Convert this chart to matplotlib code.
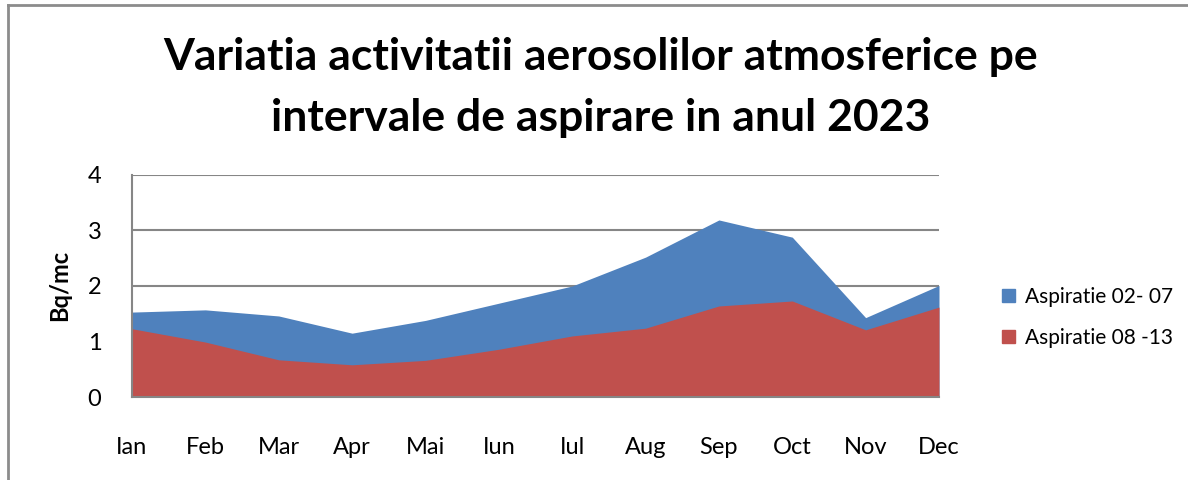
import matplotlib.pyplot as plt
from matplotlib.lines import Line2D
from matplotlib.patches import Patch

# data
months = ["Ian", "Feb", "Mar", "Apr", "Mai", "Iun", "Iul", "Aug", "Sep", "Oct", "Nov", "Dec"]
asp_02_07 = [1.53, 1.57, 1.46, 1.15, 1.38, 1.69, 2.00, 2.52, 3.19, 2.88, 1.43, 2.01]
asp_08_13 = [1.23, 0.99, 0.67, 0.58, 0.66, 0.86, 1.10, 1.24, 1.64, 1.73, 1.21, 1.62]
labels = ["Aspiratie 02- 07", "Aspiratie 08 -13"]
title_lines = ["Variatia activitatii aerosolilor atmosferice pe",
               "intervale de aspirare in anul 2023"]

blue = "#4F81BD"
red = "#C0504D"
gray = "#868686"

plt.rcParams['font.family'] = ['Lato', 'DejaVu Sans']

fig = plt.figure(figsize=(11.88, 4.8), dpi=100)
ax = fig.add_axes([132 / 1188, 83 / 480, 807 / 1188, 222 / 480])

x = list(range(len(months)))
ax.fill_between(x, asp_02_07, color=blue, lw=0, zorder=2)
ax.fill_between(x, asp_08_13, color=red, lw=0, zorder=3)

ax.set_xlim(0, len(months) - 1)
ax.set_ylim(0, 4)
ax.set_xticks(x)
ax.set_xticklabels(months, fontsize=17)
ax.set_yticks([0, 1, 2, 3, 4])
ax.tick_params(axis='x', length=0, pad=29)
ax.tick_params(axis='y', length=0, pad=22, labelsize=17)

ax.set_axisbelow(True)
ax.yaxis.grid(True, color=gray, lw=1.5)
for s in ["top", "right"]:
    ax.spines[s].set_visible(False)
for s in ["left", "bottom"]:
    ax.spines[s].set_color(gray)
    ax.spines[s].set_linewidth(1.5)
    ax.spines[s].set_zorder(4)

fig.text(60 / 1188, 1 - 285 / 480, "Bq/mc", rotation=90, fontsize=17,
         fontweight='bold', ha='center', va='center')

fig.text(601 / 1188, 1 - 57 / 480, title_lines[0], fontsize=32,
         fontweight='bold', ha='center', va='center')
fig.text(601 / 1188, 1 - 118 / 480, title_lines[1], fontsize=32,
         fontweight='bold', ha='center', va='center')

handles = [Patch(color=blue), Patch(color=red)]
fig.legend(handles, labels, loc='center left',
           bbox_to_anchor=(1002 / 1188, 1 - 317.5 / 480),
           bbox_transform=fig.transFigure, frameon=False, fontsize=15,
           handlelength=0.6, handleheight=0.6, handletextpad=0.5,
           labelspacing=1.0, borderpad=0, borderaxespad=0)

# outer chart border (top and left visible in the reference)
fig.add_artist(Line2D([8 / 1188, 1.0], [1 - 5 / 480] * 2,
                      transform=fig.transFigure, color="#8c8c8c", lw=2))
fig.add_artist(Line2D([8 / 1188] * 2, [0.0, 1 - 5 / 480],
                      transform=fig.transFigure, color="#8c8c8c", lw=2))

fig.savefig("out.png", dpi=100)
